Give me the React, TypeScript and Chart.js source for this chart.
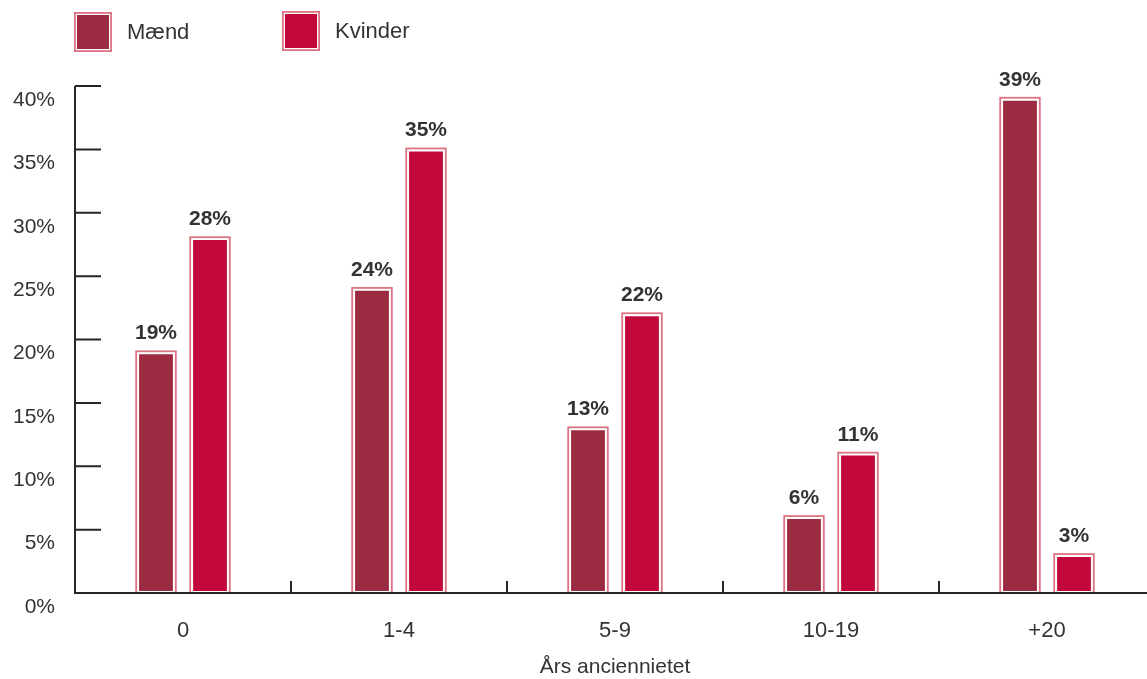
import { useEffect, useRef } from "react"
import { Chart, registerables } from "chart.js"

Chart.register(...registerables)

const categories = ["0", "1-4", "5-9", "10-19", "+20"]
const maend = [19, 24, 13, 6, 39]
const kvinder = [28, 35, 22, 11, 3]
const yTicks = [0, 5, 10, 15, 20, 25, 30, 35, 40]

const MAEND_COLOR = "#9c2a40"
const KVINDER_COLOR = "#c3093b"
const OUTLINE = "#dc7482"
const INK = "#333333"
const AXIS = "#262626"
const FONT = "'Liberation Sans', Arial, sans-serif"

// draws bar outlines, value labels, axes with inward ticks and the legend
const decorPlugin = {
  id: "decor",
  afterDraw(chart: any) {
    const { ctx, chartArea } = chart
    const xs = chart.scales.x
    const ys = chart.scales.y
    ctx.save()

    chart.data.datasets.forEach((ds: any, di: number) => {
      const meta = chart.getDatasetMeta(di)
      meta.data.forEach((bar: any, i: number) => {
        const { x, y, base, width } = bar.getProps(["x", "y", "base", "width"], true)
        ctx.strokeStyle = OUTLINE
        ctx.lineWidth = 1.8
        ctx.strokeRect(x - width / 2 - 0.9, y - 0.9, width + 1.8, base - y + 0.9)
        ctx.fillStyle = INK
        ctx.font = `bold 21px ${FONT}`
        ctx.textAlign = "center"
        ctx.textBaseline = "alphabetic"
        ctx.fillText(ds.data[i] + "%", x, y - 13)
      })
    })

    // axes
    ctx.strokeStyle = AXIS
    ctx.lineWidth = 2
    ctx.beginPath()
    ctx.moveTo(chartArea.left, chartArea.top)
    ctx.lineTo(chartArea.left, chartArea.bottom)
    ctx.lineTo(chartArea.right, chartArea.bottom)
    yTicks.forEach((v) => {
      const py = ys.getPixelForValue(v)
      ctx.moveTo(chartArea.left, py)
      ctx.lineTo(chartArea.left + 26, py)
    })
    for (let i = 0; i < categories.length - 1; i++) {
      const px = (xs.getPixelForTick(i) + xs.getPixelForTick(i + 1)) / 2
      ctx.moveTo(px, chartArea.bottom)
      ctx.lineTo(px, chartArea.bottom - 12)
    }
    ctx.stroke()

    // legend
    const items = [
      { label: "Mænd", color: MAEND_COLOR, x: 74, y: 12 },
      { label: "Kvinder", color: KVINDER_COLOR, x: 282, y: 11 },
    ]
    items.forEach((it) => {
      ctx.fillStyle = it.color
      ctx.fillRect(it.x + 3, it.y + 3, 32, 34)
      ctx.strokeStyle = OUTLINE
      ctx.lineWidth = 1.8
      ctx.strokeRect(it.x + 0.9, it.y + 0.9, 36.2, 38.2)
      ctx.fillStyle = INK
      ctx.font = `22px ${FONT}`
      ctx.textAlign = "left"
      ctx.textBaseline = "middle"
      ctx.fillText(it.label, it.x + 53, it.y + 21)
    })

    ctx.restore()
  },
}

export default function App() {
  const canvasRef = useRef<HTMLCanvasElement>(null)
  const chartRef = useRef<Chart | null>(null)

  useEffect(() => {
    if (!canvasRef.current) return
    if (chartRef.current) chartRef.current.destroy()

    chartRef.current = new Chart(canvasRef.current, {
      type: "bar",
      data: {
        labels: categories,
        datasets: [
          {
            label: "Mænd",
            data: maend,
            backgroundColor: MAEND_COLOR,
            borderColor: "#ffffff",
            borderWidth: 2,
            borderSkipped: false,
            categoryPercentage: 0.5,
            barPercentage: 0.7,
          },
          {
            label: "Kvinder",
            data: kvinder,
            backgroundColor: KVINDER_COLOR,
            borderColor: "#ffffff",
            borderWidth: 2,
            borderSkipped: false,
            categoryPercentage: 0.5,
            barPercentage: 0.7,
          },
        ],
      },
      options: {
        animation: false,
        responsive: true,
        maintainAspectRatio: false,
        layout: { padding: { top: 86, right: 5, left: 0, bottom: 0 } },
        plugins: {
          legend: { display: false },
          tooltip: { enabled: false },
        },
        scales: {
          x: {
            grid: { display: false, drawTicks: false },
            border: { display: false },
            ticks: { color: INK, font: { family: FONT, size: 22 }, padding: 25 },
            title: {
              display: true,
              text: "Års anciennietet",
              color: INK,
              font: { family: FONT, size: 21, lineHeight: 1 },
              padding: { top: 0, bottom: 1 },
            },
            afterFit: (s: any) => {
              s.height = 86
            },
          },
          y: {
            min: 0,
            max: 40,
            grid: { display: false, drawTicks: false },
            border: { display: false },
            ticks: {
              stepSize: 5,
              color: INK,
              font: { family: FONT, size: 21 },
              padding: 20,
              labelOffset: 14,
              callback: (v: any) => v + "%",
            },
            afterFit: (s: any) => {
              s.width = 75
            },
          },
        },
      },
      plugins: [decorPlugin],
    })

    return () => {
      if (chartRef.current) {
        chartRef.current.destroy()
        chartRef.current = null
      }
    }
  }, [])

  return (
    <div style={{ position: "fixed", left: 0, top: 0, width: 1147, height: 679, overflow: "hidden", background: "#fff" }}>
      <div style={{ width: 1160, height: 679 }}>
        <canvas ref={canvasRef}></canvas>
      </div>
    </div>
  )
}
